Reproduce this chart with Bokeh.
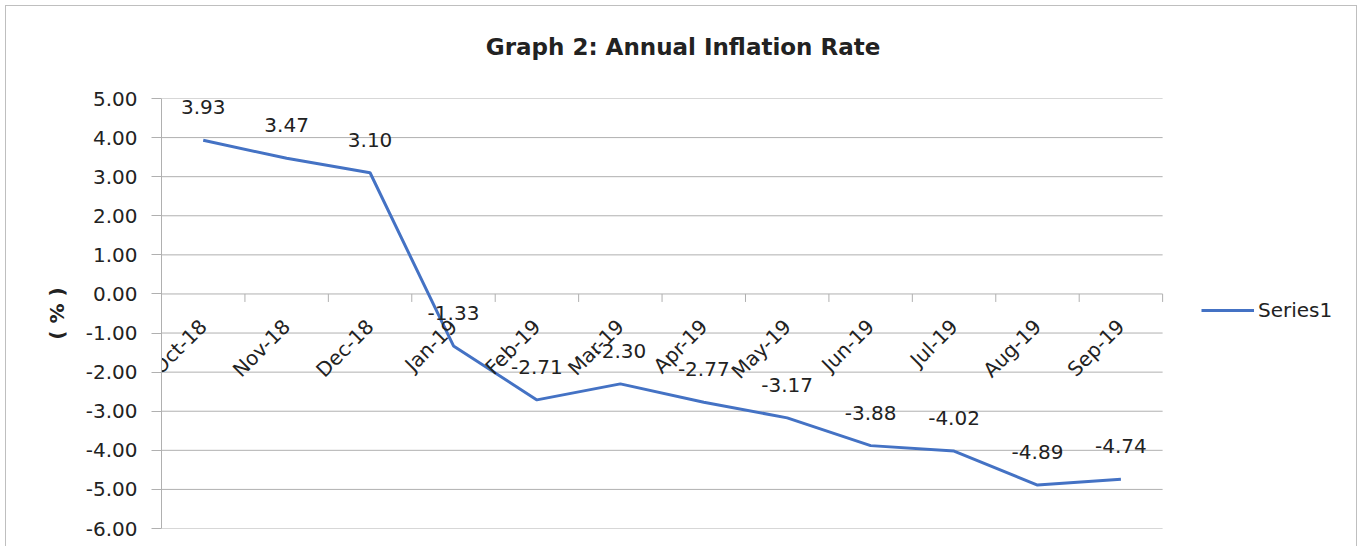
import math
from bokeh.plotting import figure
from bokeh.models import (Range1d, LinearAxis, FixedTicker, NumeralTickFormatter,
                          Legend, LegendItem, Label, ColumnDataSource)
from bokeh.core.properties import value
from bokeh.embed import file_html
from bokeh.resources import INLINE

# ---- data ----
months = ["Oct-18", "Nov-18", "Dec-18", "Jan-19", "Feb-19", "Mar-19",
          "Apr-19", "May-19", "Jun-19", "Jul-19", "Aug-19", "Sep-19"]
inflation = [3.93, 3.47, 3.10, -1.33, -2.71, -2.30, -2.77, -3.17, -3.88, -4.02, -4.89, -4.74]
y_ticks = [-6, -5, -4, -3, -2, -1, 0, 1, 2, 3, 4, 5]
title_text = "Graph 2: Annual Inflation Rate"
y_label = "( % )"
series_name = "Series1"

FONT = "DejaVu Sans"
TXT = "#222222"
GRID = "#b0b0b0"
LINE = "#4472C4"

n = len(months)
pos = [i + 0.5 for i in range(n)]          # category centres on a 0..n band scale
edges = list(range(n + 1))                  # category boundaries
LEGEND_BANDS = 2.3                          # room right of the plot area for the legend

src = ColumnDataSource(dict(
    pos=pos, month=months, val=inflation,
    lab=["%.2f" % v for v in inflation],
))

p = figure(width=1352, height=541,
           x_range=Range1d(0, n + LEGEND_BANDS),
           y_range=Range1d(min(y_ticks), max(y_ticks)),
           x_axis_location=None,
           output_backend="svg", toolbar_location=None,
           min_border_left=155, min_border_right=4,
           min_border_top=92, min_border_bottom=19)
p.styles = {"margin-left": "5px", "margin-top": "5px",
            "border-top": "1px solid #bfbfbf", "border-left": "1px solid #bfbfbf",
            "border-right": "1px solid #bfbfbf"}
p.outline_line_color = None
p.xgrid.visible = False
p.ygrid.visible = False

# title, centred over the whole chart area
p.add_layout(Label(x=n / 2, y=max(y_ticks), x_offset=21, y_offset=52, text=title_text,
                   text_align="center", text_baseline="middle",
                   text_font=FONT, text_font_style="bold", text_font_size="23px",
                   text_color=TXT), "above")

# horizontal gridlines across the category area only
p.segment(x0=0, x1=n, y0=y_ticks, y1=y_ticks, line_color=GRID, line_width=1)

# y axis
ya = p.yaxis[0]
ya.ticker = FixedTicker(ticks=y_ticks)
ya.formatter = NumeralTickFormatter(format="0.00")
ya.major_label_text_font = FONT
ya.major_label_text_font_size = "20px"
ya.major_label_text_color = TXT
ya.axis_line_color = GRID
ya.major_tick_line_color = GRID
ya.major_tick_in = 0
ya.major_tick_out = 10
ya.minor_tick_line_color = None
ya.major_label_standoff = 14
ya.axis_label = y_label
ya.axis_label_text_font = FONT
ya.axis_label_text_font_style = "bold"
ya.axis_label_text_font_size = "20px"
ya.axis_label_text_color = TXT
ya.axis_label_standoff = 14

# category boundary tick marks hanging below y = 0
p.ray(x=edges, y=[0] * len(edges), length=8, length_units="screen",
      angle=-math.pi / 2, line_color=GRID, line_width=1)

# category axis pinned at y = 0 with rotated labels
xa = LinearAxis(fixed_location=0, ticker=FixedTicker(ticks=pos),
                major_label_overrides={pv: m for pv, m in zip(pos, months)},
                major_label_orientation=math.pi / 4)
xa.axis_line_color = None
xa.major_tick_line_color = None
xa.minor_tick_line_color = None
xa.major_tick_out = 0
xa.major_tick_in = 0
xa.major_label_standoff = 29
xa.major_label_text_font = FONT
xa.major_label_text_font_size = "20px"
xa.major_label_text_color = TXT
p.add_layout(xa, "below")

# series line
r = p.line("pos", "val", source=src, line_color=LINE, line_width=3)

# data labels
p.text("pos", "val", text="lab", source=src,
       text_align="center", text_baseline="middle", y_offset=-33,
       text_font=value(FONT), text_font_size="20px", text_color=TXT)

# legend
leg = Legend(items=[LegendItem(label=series_name, renderers=[r])],
             location=(1040, 206), glyph_width=53, glyph_height=20, label_height=20,
             label_standoff=4, padding=0, margin=0, spacing=0,
             border_line_color=None, background_fill_alpha=0,
             label_text_font=FONT, label_text_font_size="20px", label_text_color=TXT)
p.add_layout(leg, "center")

open("out.html", "w").write(file_html(p, INLINE))
